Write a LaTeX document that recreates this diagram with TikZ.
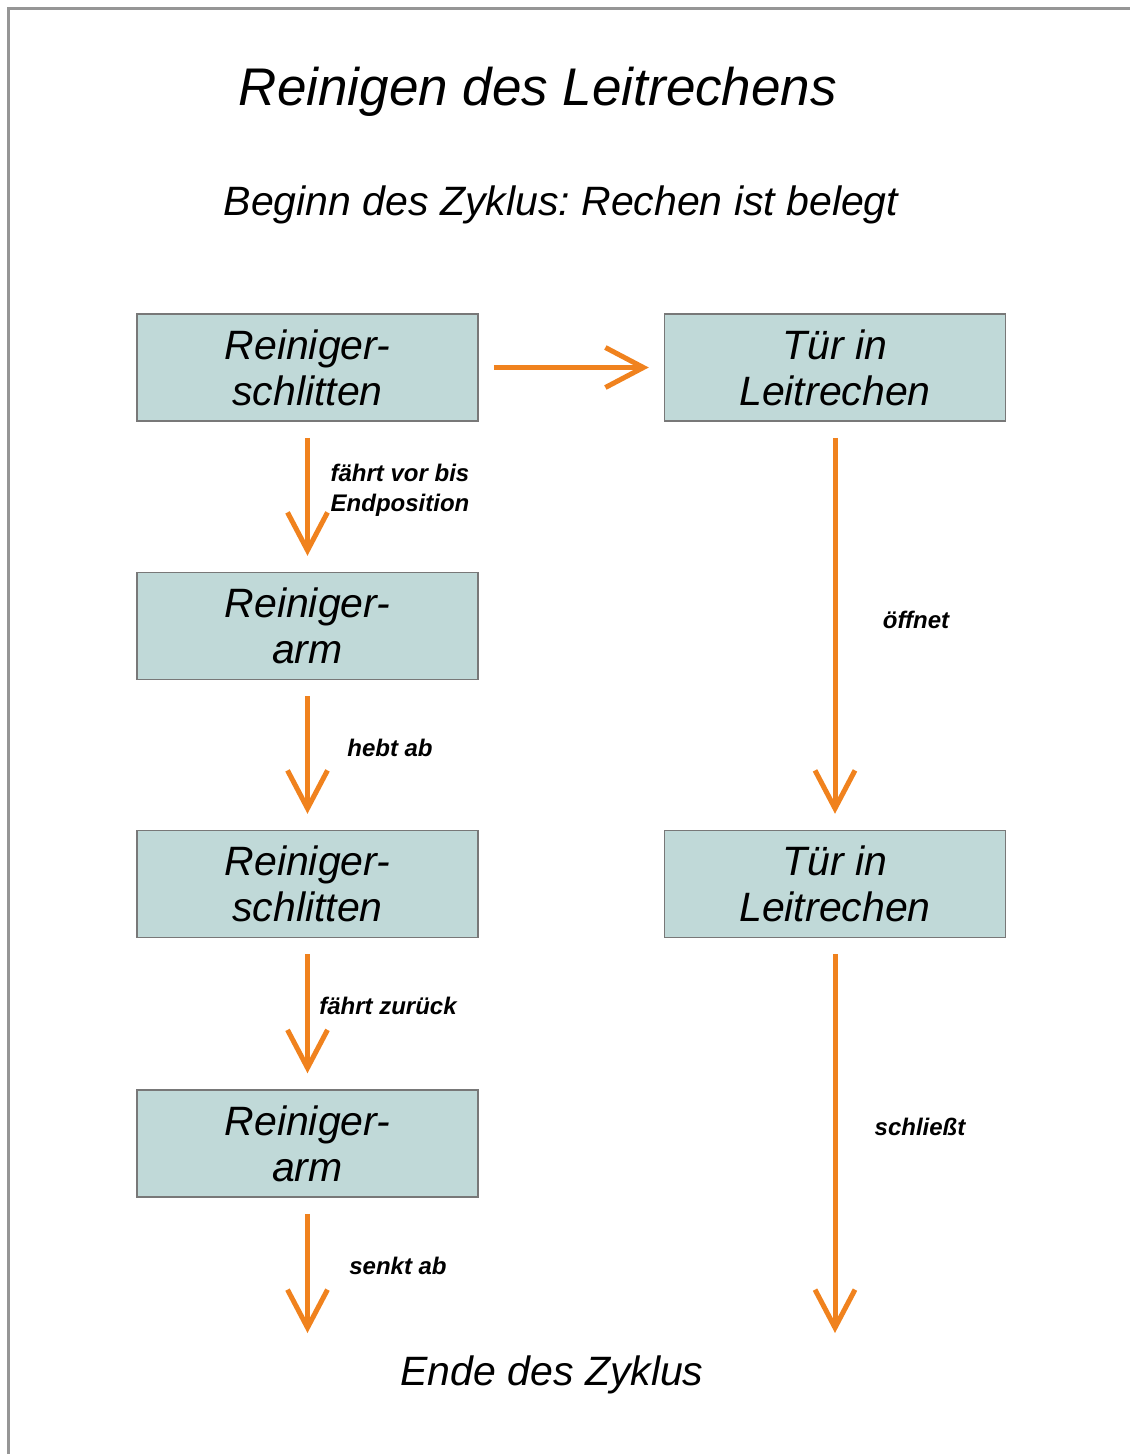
\documentclass[tikz,border=0pt]{standalone}
\usepackage{fontspec}
\setmainfont{Liberation Sans}
\usepackage{tikz}
\usetikzlibrary{arrows.meta}
\definecolor{boxfill}{RGB}{192,217,216}
\definecolor{boxline}{RGB}{120,120,120}
\definecolor{arrorange}{RGB}{240,130,30}
\definecolor{framegray}{RGB}{150,150,150}
\frenchspacing

\begin{document}
\begin{tikzpicture}[x=1pt, y=-1pt,
>={Straight Barb[length=38pt,width=40pt]},
box/.style={draw=boxline, line width=1.5pt, fill=boxfill, minimum width=341pt, minimum height=107pt, align=center, inner sep=0pt, font=\fontsize{41}{46}\selectfont\itshape},
flow/.style={->, draw=arrorange, line width=5pt, shorten <=16pt, shorten >=16pt},
lbl/.style={align=center, inner sep=0pt, font=\fontsize{24}{30}\selectfont\bfseries\itshape},
heading/.style={inner sep=0pt, font=\fontsize{41}{46}\selectfont\itshape}]%Styles for boxes, orange arrows and labels
\useasboundingbox (0,0) rectangle (1130,1454);
\draw[framegray, line width=3pt] (8,1454) -- (8,8) -- (1130,8); %Frame cut at the page edge

\node[inner sep=0pt, font=\fontsize{53}{60}\selectfont\itshape] (title) at (538,92) {Reinigen des Leitrechens};
\node[heading] (start) at (561,205) {Beginn des Zyklus: Rechen ist belegt};

% left column
\node[box] (slide1) at (307.5,367.5) {Reiniger-\\schlitten};
\node[box] (arm1)   at (307.5,626)   {Reiniger-\\arm};
\node[box] (slide2) at (307.5,884)   {Reiniger-\\schlitten};
\node[box] (arm2)   at (307.5,1143.5) {Reiniger-\\arm};
\coordinate (endL) at (307.5,1349);

% right column
\node[box] (door1) at (835,367.5) {Tür in\\Leitrechen};
\node[box] (door2) at (835,884)   {Tür in\\Leitrechen};
\coordinate (endR) at (835,1349);

\node[heading] (finish) at (552,1375) {Ende des Zyklus};

\draw[flow, shorten <=15pt, shorten >=15pt] (slide1) -- (door1);
\draw[flow] (slide1) -- (arm1);
\draw[flow] (arm1) -- (slide2);
\draw[flow] (slide2) -- (arm2);
\draw[flow] (arm2.south) -- (endL);
\draw[flow] (door1) -- (door2);
\draw[flow] (door2.south) -- (endR);

\node[lbl] (drive) at (400,490) {fährt vor bis\\Endposition};
\node[lbl] (lift)  at (390,748) {hebt ab};
\node[lbl] (back)  at (388,1006) {fährt zurück};
\node[lbl] (lower) at (398,1266) {senkt ab};
\node[lbl] (open)  at (916,620) {öffnet};
\node[lbl] (close) at (920,1127) {schließt};
\end{tikzpicture}
\end{document}
